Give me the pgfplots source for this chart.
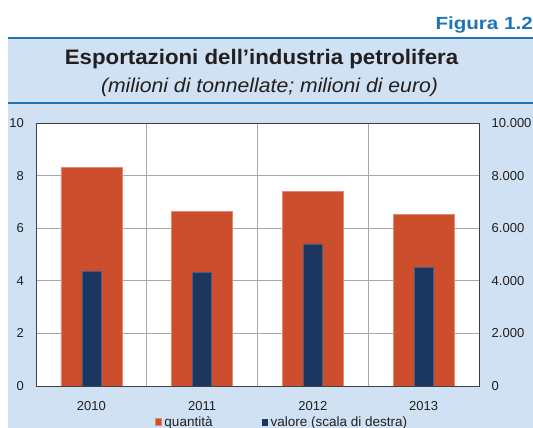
\documentclass[border=0pt]{standalone}
\usepackage{pgfplots}
\pgfplotsset{compat=1.18}
\usepackage{fontspec}
\setmainfont{Liberation Sans}
\definecolor{panel}{HTML}{CFE1F2}
\definecolor{rulec}{HTML}{1F74B6}
\definecolor{orng}{HTML}{CC4E2C}
\definecolor{orngedge}{HTML}{E38A6E}
\definecolor{navy}{HTML}{1B375F}
\definecolor{gridc}{HTML}{A8A8A8}
\definecolor{axc}{HTML}{404040}
\definecolor{txt}{HTML}{231F20}
\begin{document}
\begin{tikzpicture}[x=1pt,y=1pt]
\useasboundingbox (0,0) rectangle (533,428);
\fill[panel] (8,0) rectangle (533,390);
\draw[rulec, line width=2pt] (8,390) -- (533,390);
\draw[rulec, line width=2pt] (8,325) -- (533,325);
\node[anchor=base east, inner sep=0pt, xscale=1.17, text=rulec, font=\fontsize{17.6}{20}\selectfont\bfseries] at (533,398) {Figura 1.2};
\node[anchor=base, inner sep=0pt, xscale=1.06, text=txt, font=\fontsize{21}{24}\selectfont\bfseries] at (261.5,363) {Esportazioni dell’industria petrolifera};
\node[anchor=base, inner sep=0pt, xscale=1.06, text=txt, font=\fontsize{20}{24}\selectfont\itshape] at (269.5,335.5) {(milioni di tonnellate; milioni di euro)};

\begin{axis}[
  at={(36pt,42pt)}, anchor=south west,
  scale only axis, width=443pt, height=263pt,
  xmin=-0.5, xmax=3.5, ymin=0, ymax=10,
  ytick={0,2,4,6,8,10},
  xtick={0,1,2,3}, xticklabels={2010,2011,2012,2013},
  minor xtick={0.5,1.5,2.5},
  xminorgrids=true, ymajorgrids=true,
  grid style={gridc, line width=0.8pt},
  minor grid style={gridc, line width=0.8pt},
  major tick length=0pt, minor tick length=0pt,
  axis line style={draw=none},
  axis background/.style={fill=white},
  tick label style={font=\fontsize{13}{15}\selectfont, text=txt},
  /pgf/number format/assume math mode=true,
  yticklabel style={inner sep=0pt, xshift=-12pt},
  xticklabel style={inner sep=0pt, yshift=-15.5pt},
  ybar, bar width=61pt, bar shift=0pt,
  legend style={at={(0.2686,-0.137)}, anchor=west, draw=none, fill=none,
    inner sep=0pt, outer sep=0pt, legend columns=2,
    nodes={inner sep=0pt, outer sep=0pt},
    font=\fontsize{13.5}{15}\selectfont, text=txt,
    /tikz/every even column/.append style={column sep=49pt}},
  legend image code/.code={\fill[#1] (0pt,-3.5pt) rectangle (6pt,3.5pt); \path (0pt,0pt) (9pt,0pt);},
]
\addplot[fill=orng, draw=orngedge, line width=0.5pt] coordinates {(0,8.30) (1,6.65) (2,7.40) (3,6.53)};
\addlegendentry{quantità}
\addlegendimage{fill=navy, draw=none}
\addlegendentry{valore (scala di destra)}
\end{axis}

\begin{axis}[
  at={(36pt,42pt)}, anchor=south west,
  scale only axis, width=443pt, height=263pt,
  xmin=-0.5, xmax=3.5, ymin=0, ymax=10000,
  ytick={0,2000,4000,6000,8000,10000},
  scaled y ticks=false,
  /pgf/number format/1000 sep={.},
  xtick=\empty,
  ytick pos=right, yticklabel pos=right,
  major tick length=0pt,
  axis on top,
  axis line style={axc, line width=0.9pt},
  tick label style={font=\fontsize{13}{15}\selectfont, text=txt},
  /pgf/number format/assume math mode=true,
  yticklabel style={inner sep=0pt, xshift=12.5pt, anchor=west},
  ybar, bar width=19pt, bar shift=0pt,
]
\addplot[fill=navy, draw=navy!80!white, line width=0.4pt] coordinates {(0,4370) (1,4320) (2,5400) (3,4520)};
\end{axis}
\end{tikzpicture}
\end{document}
